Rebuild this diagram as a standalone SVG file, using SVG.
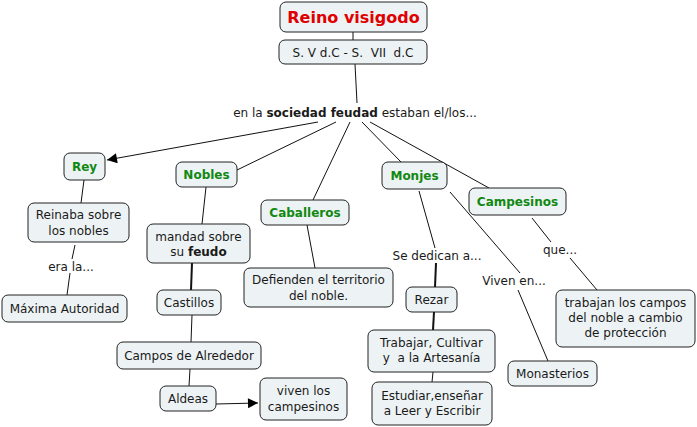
<svg xmlns="http://www.w3.org/2000/svg" width="697" height="427" viewBox="0 0 697 427">
<style>
.n rect{fill:#edf3f5;stroke:#222;stroke-width:1}
text{font-family:"DejaVu Sans",Verdana,sans-serif;font-size:12px;fill:#1a1a1a;text-anchor:middle}
.g{fill:#118811;font-weight:bold}
.t{fill:#e00000;font-weight:bold;font-size:16px}
.b{font-weight:bold}
.p{white-space:pre}
.c line{stroke:#111;stroke-width:1}
</style>
<defs>
<marker id="ar" viewBox="0 0 10 10" refX="10" refY="5" markerWidth="12" markerHeight="10" markerUnits="userSpaceOnUse" orient="auto"><path d="M0,0L10,5L0,10z" fill="#000"/></marker>
</defs>
<rect width="697" height="427" fill="#fff"/>
<g class="c">
<line x1="353" y1="32" x2="353" y2="40"/>
<line x1="355" y1="64" x2="357" y2="103"/>
<line x1="318" y1="122" x2="107" y2="160" marker-end="url(#ar)"/>
<line x1="336" y1="122" x2="237" y2="170"/>
<line x1="350" y1="122" x2="313" y2="200"/>
<line x1="362" y1="122" x2="401" y2="162"/>
<line x1="370" y1="122" x2="489" y2="188"/>
<line x1="84" y1="180" x2="81" y2="203"/>
<line x1="75" y1="245" x2="72" y2="259"/>
<line x1="70" y1="273" x2="67" y2="295"/>
<line x1="206" y1="187" x2="202" y2="224"/>
<line x1="192" y1="263" x2="191" y2="290" style="stroke-width:2"/>
<line x1="192" y1="315" x2="191" y2="342"/>
<line x1="190" y1="369" x2="189" y2="386"/>
<line x1="216" y1="404" x2="258" y2="403" marker-end="url(#ar)"/>
<line x1="307" y1="225" x2="315" y2="268"/>
<line x1="419" y1="191" x2="435" y2="248"/>
<line x1="436" y1="263" x2="435" y2="287" style="stroke-width:2"/>
<line x1="434" y1="312" x2="433" y2="330" style="stroke-width:2"/>
<line x1="433" y1="372" x2="432" y2="382"/>
<line x1="450" y1="192" x2="520" y2="273"/>
<line x1="518" y1="290" x2="548" y2="361"/>
<line x1="532" y1="218" x2="551" y2="242"/>
<line x1="570" y1="258" x2="597" y2="290"/>
</g>
<g id="titulo" class="n"><rect x="280" y="2" width="147" height="30" rx="6"/><text x="353.5" y="23" class="t">Reino visigodo</text></g>
<g id="siglos" class="n"><rect x="279" y="40" width="148" height="24" rx="6"/><text x="353" y="56.5" class="p">S. V d.C - S.  VII  d.C</text></g>
<g id="sociedad"><text x="355" y="117">en la <tspan class="b">sociedad feudad</tspan> estaban el/los...</text></g>
<g id="rey" class="n"><rect x="64" y="153" width="41" height="27" rx="6"/><text x="84.5" y="171" class="g">Rey</text></g>
<g id="nobles" class="n"><rect x="176" y="162" width="61" height="25" rx="6"/><text x="206.5" y="179" class="g">Nobles</text></g>
<g id="caballeros" class="n"><rect x="261" y="200" width="88" height="25" rx="6"/><text x="305" y="217" class="g">Caballeros</text></g>
<g id="monjes" class="n"><rect x="382" y="162" width="65" height="27" rx="6"/><text x="414.5" y="180" class="g">Monjes</text></g>
<g id="campesinos" class="n"><rect x="469" y="188" width="97" height="27" rx="6"/><text x="517.5" y="206" class="g">Campesinos</text></g>
<g id="reinaba" class="n"><rect x="28" y="203" width="101" height="39" rx="6"/><text x="78.5" y="219">Reinaba sobre</text><text x="78.5" y="235">los nobles</text></g>
<g id="erala"><text x="71" y="271">era la...</text></g>
<g id="maxima" class="n"><rect x="2" y="295" width="125" height="27" rx="6"/><text x="64.5" y="313">Máxima Autoridad</text></g>
<g id="mandad" class="n"><rect x="147" y="224" width="103" height="39" rx="6"/><text x="198.5" y="241">mandad sobre</text><text x="198.5" y="256">su <tspan class="b">feudo</tspan></text></g>
<g id="castillos" class="n"><rect x="157" y="290" width="64" height="25" rx="6"/><text x="189" y="307">Castillos</text></g>
<g id="campos" class="n"><rect x="117" y="342" width="144" height="27" rx="6"/><text x="189" y="360">Campos de Alrededor</text></g>
<g id="aldeas" class="n"><rect x="160" y="386" width="56" height="25" rx="6"/><text x="188" y="403">Aldeas</text></g>
<g id="viven" class="n"><rect x="260" y="378" width="87" height="42" rx="6"/><text x="303.5" y="395">viven los</text><text x="303.5" y="411">campesinos</text></g>
<g id="defienden" class="n"><rect x="244" y="268" width="149" height="39" rx="6"/><text x="318.5" y="284">Defienden el territorio</text><text x="318.5" y="300">del noble.</text></g>
<g id="sededican"><text x="437" y="260">Se dedican a...</text></g>
<g id="rezar" class="n"><rect x="406" y="287" width="51" height="25" rx="6"/><text x="431.5" y="304">Rezar</text></g>
<g id="trabajar" class="n"><rect x="368" y="330" width="127" height="42" rx="6"/><text x="431.5" y="347">Trabajar, Cultivar</text><text x="431.5" y="362" class="p">y  a la Artesanía</text></g>
<g id="estudiar" class="n"><rect x="372" y="382" width="120" height="43" rx="6"/><text x="432" y="400">Estudiar,enseñar</text><text x="432" y="415">a Leer y Escribir</text></g>
<g id="vivenen"><text x="514" y="285">Viven en...</text></g>
<g id="monasterios" class="n"><rect x="508" y="361" width="89" height="25" rx="6"/><text x="552.5" y="378">Monasterios</text></g>
<g id="que"><text x="560" y="254">que...</text></g>
<g id="trabajan" class="n"><rect x="556" y="290" width="139" height="57" rx="6"/><text x="625.5" y="307">trabajan los campos</text><text x="625.5" y="322">del noble a cambio</text><text x="625.5" y="337">de protección</text></g>
</svg>
